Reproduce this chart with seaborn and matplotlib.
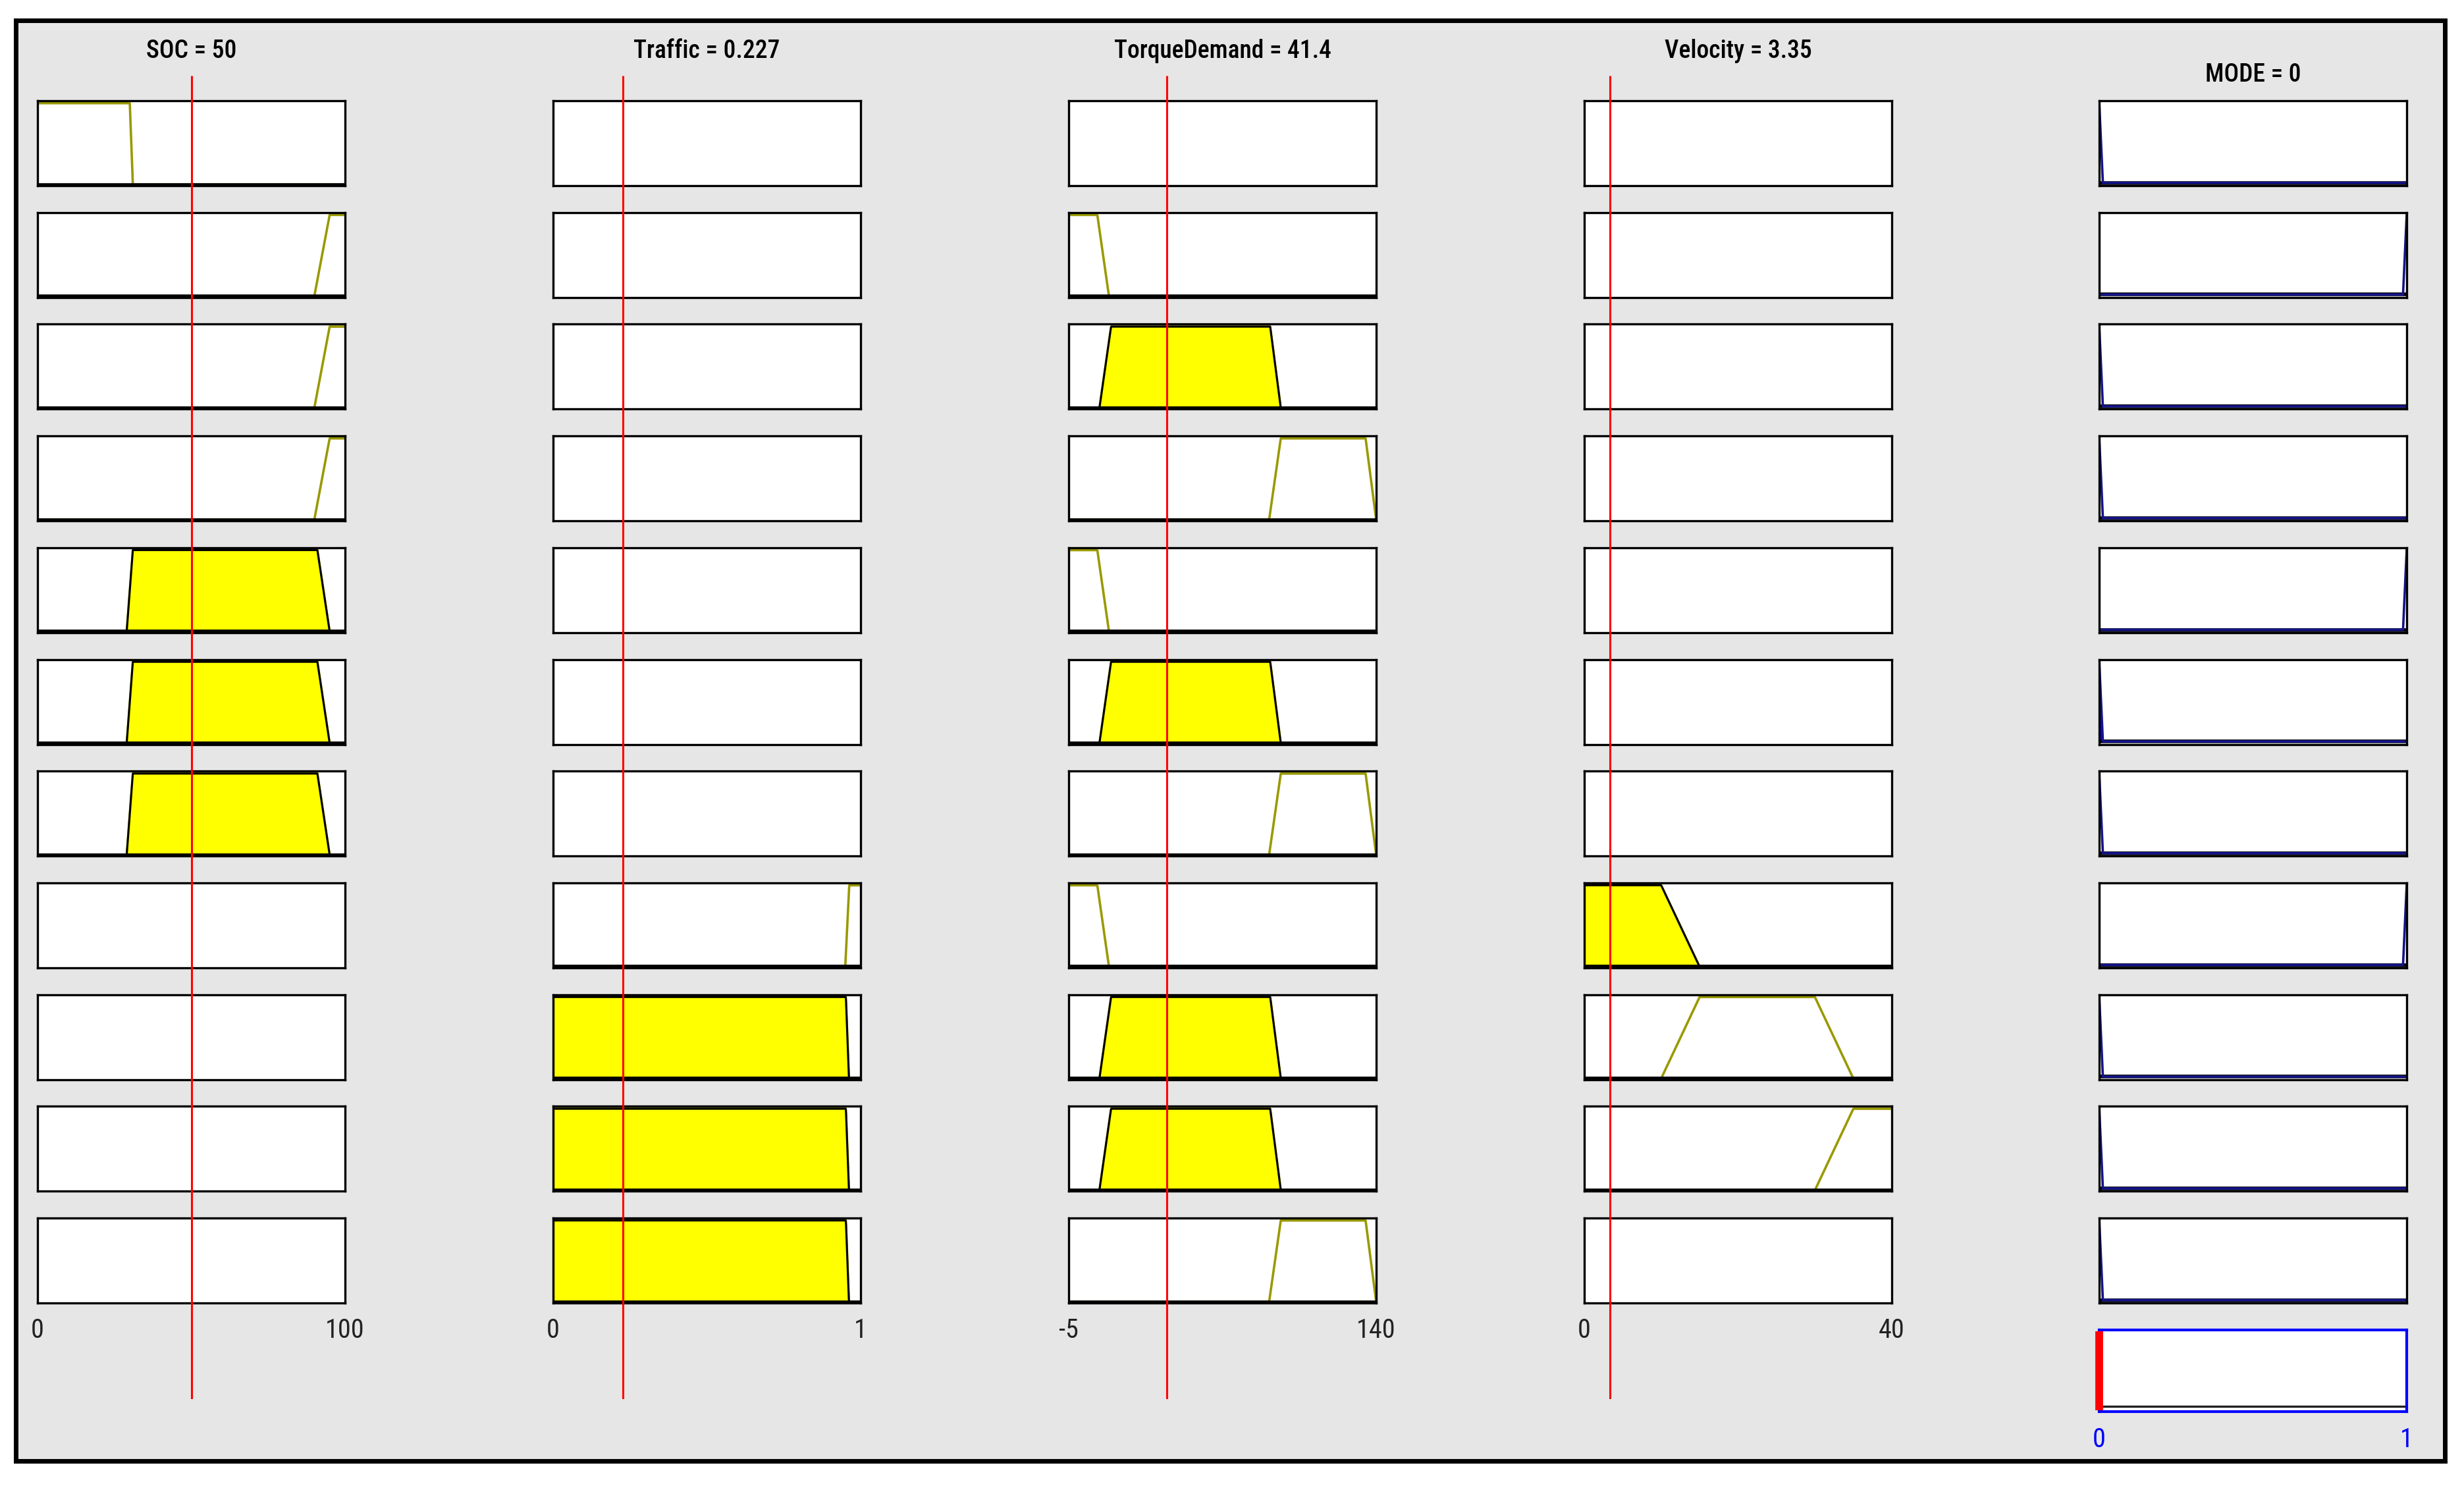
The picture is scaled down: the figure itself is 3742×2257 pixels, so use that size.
## IMPORTS
import numpy as np
import matplotlib
matplotlib.use('Agg')
import matplotlib.pyplot as plt
from matplotlib.patches import Rectangle
import seaborn as sns

import warnings
warnings.filterwarnings('ignore')

## DATA
# input / output variables of the fuzzy system
var_names = ['SOC', 'Traffic', 'TorqueDemand', 'Velocity']
var_ranges = [(0, 100), (0, 1), (-5, 140), (0, 40)]
var_values = [50, 0.227, 41.4, 3.35]
var_labels = ['SOC = 50', 'Traffic = 0.227', 'TorqueDemand = 41.4', 'Velocity = 3.35']
tick_labels = [('0', '100'), ('0', '1'), ('-5', '140'), ('0', '40')]

# trapezoid params (a, b, c, d) per rule, None = not used in rule
soc_mfs = [(0, 0, 30, 31), (90, 95, 100, 100), (90, 95, 100, 100), (90, 95, 100, 100),
           (29, 31, 91, 95), (29, 31, 91, 95), (29, 31, 91, 95),
           None, None, None, None]
traffic_mfs = [None, None, None, None, None, None, None,
               (0.95, 0.963, 1, 1), (0, 0, 0.952, 0.962), (0, 0, 0.952, 0.962), (0, 0, 0.952, 0.962)]
torque_mfs = [None, (-5, -5, 8.5, 14), (9.5, 15, 90, 95), (89.5, 95, 135, 140),
              (-5, -5, 8.5, 14), (9.5, 15, 90, 95), (89.5, 95, 135, 140),
              (-5, -5, 8.5, 14), (9.5, 15, 90, 95), (9.5, 15, 90, 95), (89.5, 95, 135, 140)]
velocity_mfs = [None, None, None, None, None, None, None,
                (0, 0, 10, 15), (10, 15, 30, 35), (30, 35, 40, 40), None]
input_mfs = [soc_mfs, traffic_mfs, torque_mfs, velocity_mfs]

# output MODE
mode_range = (0, 1)
mode_value = 0
mode_label = 'MODE = 0'
mode_low = (0, 0, 0, 0.012)
mode_high = (0.988, 1, 1, 1)
mode_rules = ['low', 'high', 'low', 'low', 'high', 'low', 'low', 'high', 'low', 'low', 'low']

## LAYOUT (pixels of the 3742x2257 canvas)
W, H = 3742, 2257
col_x = [57, 840, 1623, 2406, 3188]
box_w = 467
row_top = 153
row_pitch = 169.7
box_h = 129
agg_top, agg_h = 2020, 124

OLIVE = '#999900'
YELLOW = '#ffff00'
NAVY = '#14148c'
BLUE = '#0000ff'
FONT = ['Liberation Sans Narrow', 'Roboto Condensed', 'DejaVu Sans Condensed', 'DejaVu Sans']


def trapmf(x, p):
    a, b, c, d = p
    left = np.ones_like(x) if b == a else np.clip((x - a) / (b - a), 0, 1)
    right = np.ones_like(x) if d == c else np.clip((d - x) / (d - c), 0, 1)
    y = np.minimum(left, right)
    y[(x < a) | (x > d)] = 0
    return y


def px_axes(fig, x, y, w, h, **kw):
    return fig.add_axes([x / W, 1 - (y + h) / H, w / W, h / H], **kw)


def style_box(ax, color='black', lw=2.4):
    ax.set_xticks([])
    ax.set_yticks([])
    ax.set_facecolor('white')
    for s in ax.spines.values():
        s.set_visible(True)
        s.set_color(color)
        s.set_linewidth(lw)
        s.set_zorder(5)


def label(x, y, s, size, color='black', weight='normal'):
    fig.text(x / W, 1 - y / H, s, ha='center', va='center', fontsize=size,
             color=color, fontstretch='condensed', fontweight=weight)


## PLOT
sns.set_style('white')
plt.rcParams['font.family'] = FONT

fig = plt.figure(figsize=(W / 100, H / 100), dpi=100, facecolor='white')
fig.patches.append(Rectangle((24 / W, 1 - 2219 / H), (3713 - 24) / W, (2219 - 31) / H,
                             transform=fig.transFigure, facecolor='#e6e6e6',
                             edgecolor='black', lw=5, zorder=-10))

# rule strengths (min of antecedents)
n_rules = len(mode_rules)
strength = np.ones(n_rules)
for mfs, val in zip(input_mfs, var_values):
    for i, p in enumerate(mfs):
        if p is not None:
            strength[i] = min(strength[i], trapmf(np.array([val], float), p)[0])

# input columns
for k, (mfs, rng, val) in enumerate(zip(input_mfs, var_ranges, var_values)):
    xs = np.linspace(rng[0], rng[1], 1201)
    for i, p in enumerate(mfs):
        ax = px_axes(fig, col_x[k], row_top + i * row_pitch, box_w, box_h)
        style_box(ax)
        if p is not None:
            ys = trapmf(xs, p)
            sns.lineplot(x=xs, y=ys, ax=ax, color=OLIVE, lw=2.6, estimator=None,
                         sort=False, legend=False)
            level = trapmf(np.array([val], float), p)[0]
            yf = np.minimum(ys, level)
            ax.fill_between(xs, 0, yf, facecolor=YELLOW, edgecolor='none', zorder=3)
            if level > 0:
                ax.plot(xs, yf, color='black', lw=2.2, zorder=3.5)
                ax.plot([xs[0], xs[0]], [0, yf[0]], color='#555555', lw=2.2, zorder=3.5)
            ax.axhline(0, color='black', lw=4, zorder=3.6)
        ax.set_xlim(rng)
        ax.set_ylim(-0.012, 1.03)
        ax.set_xlabel('')
        ax.set_ylabel('')
    # title and ticks
    cx = col_x[k] + box_w / 2
    label(cx, 77, var_labels[k], 27, weight='medium')
    label(col_x[k], 2021, tick_labels[k][0], 29, '#222222')
    label(col_x[k] + box_w, 2021, tick_labels[k][1], 29, '#222222')

# output column
xs = np.linspace(mode_range[0], mode_range[1], 2001)
for i, r in enumerate(mode_rules):
    ax = px_axes(fig, col_x[4], row_top + i * row_pitch, box_w, box_h)
    style_box(ax)
    p = mode_low if r == 'low' else mode_high
    ys = trapmf(xs, p)
    ax.fill_between(xs, 0, np.minimum(ys, strength[i]), facecolor=BLUE,
                    edgecolor='none', zorder=2)
    ax.axhline(0, color='black', lw=4, zorder=2.5)
    sns.lineplot(x=xs, y=ys, ax=ax, color=NAVY, lw=2.6, estimator=None, sort=False,
                 legend=False, zorder=4)
    ax.set_xlim(mode_range)
    ax.set_ylim(-0.035, 1.018)
    ax.set_xlabel('')
    ax.set_ylabel('')

# aggregated output
ax = px_axes(fig, col_x[4], agg_top, box_w, agg_h)
style_box(ax, color=BLUE, lw=3)
ax.axhline(0, color='#222222', lw=2.4)
ax.axvline(mode_value, ymin=0.02, ymax=0.98, color='red', lw=8.5, clip_on=False,
           zorder=6, solid_capstyle='butt')
ax.set_xlim(mode_range)
ax.set_ylim(-0.07, 1.0)
cx = col_x[4] + box_w / 2
label(cx, 114, mode_label, 27, weight='medium')
label(col_x[4], 2187, '0', 29, BLUE)
label(col_x[4] + box_w, 2187, '1', 29, BLUE)

# red input value lines on top of all boxes
for k, (rng, val) in enumerate(zip(var_ranges, var_values)):
    ov = px_axes(fig, col_x[k], 115, box_w, 2125 - 115)
    ov.set_xlim(rng)
    ov.set_ylim(0, 1)
    ov.axvline(val, color='red', lw=2.2, solid_capstyle='butt')
    ov.axis('off')
    ov.patch.set_alpha(0)

fig.savefig('out.png', dpi=100, facecolor='white')
